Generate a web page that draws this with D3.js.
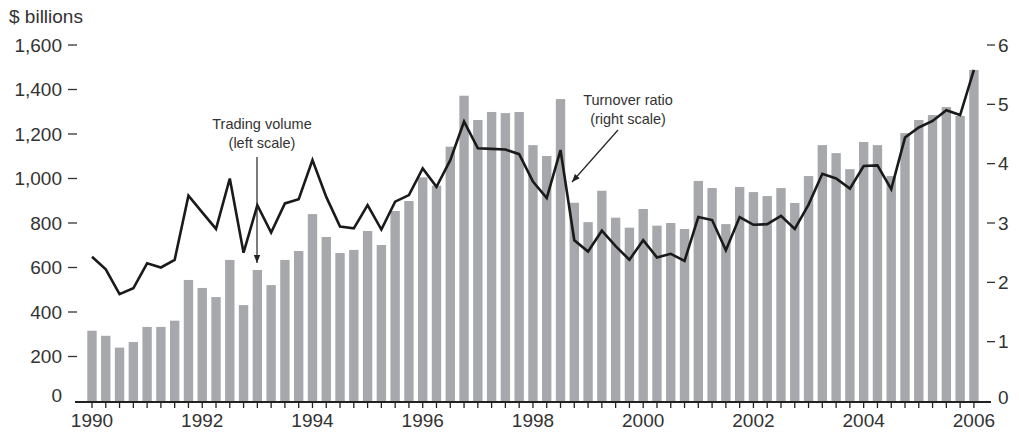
<!DOCTYPE html>
<html>
<head>
<meta charset="utf-8">
<script src="https://cdn.jsdelivr.net/npm/d3@7"></script>
<style>
  body { margin: 0; background: #fff; }
  svg text { font-family: "Liberation Sans", Arial, sans-serif; fill: #333; }
</style>
</head>
<body>
<svg id="chart" width="1019" height="434"></svg>
<script>
// Quarterly data, 1990 Q1 .. 2006 Q1
var years = d3.range(1990, 2007);
var quarters = [];
years.forEach(function(y) {
  [1, 2, 3, 4].forEach(function(q) {
    if (y < 2006 || q === 1) quarters.push(y + " Q" + q);
  });
});

// Trading volume, $ billions (left scale)
var volume = [
  316, 293, 240, 265, 333, 333, 361, 544,
  508, 467, 634, 431, 589, 521, 634, 674,
  840, 737, 665, 679, 764, 701, 854, 899,
  1005, 968, 1143, 1372, 1263, 1299, 1294, 1299,
  1150, 1101, 1357, 891, 804, 945, 824, 779,
  863, 788, 800, 773, 989, 957, 795, 962,
  939, 921, 957, 890, 1011, 1150, 1114, 1042,
  1164, 1150, 1011, 1204, 1263, 1285, 1321, 1281,
  1488
];

// Turnover ratio (right scale)
var turnover = [
  2.43, 2.22, 1.80, 1.90, 2.32, 2.25, 2.38, 3.46,
  3.18, 2.90, 3.75, 2.50, 3.30, 2.84, 3.33, 3.40,
  4.06, 3.44, 2.94, 2.91, 3.30, 2.89, 3.36, 3.47,
  3.92, 3.61, 4.06, 4.71, 4.26, 4.25, 4.24, 4.16,
  3.70, 3.42, 4.23, 2.71, 2.52, 2.87, 2.61, 2.38,
  2.71, 2.42, 2.48, 2.36, 3.10, 3.05, 2.54, 3.10,
  2.97, 2.98, 3.12, 2.90, 3.31, 3.83, 3.75, 3.58,
  3.96, 3.97, 3.57, 4.44, 4.61, 4.72, 4.90, 4.82,
  5.58
];

var leftTicks = [0, 200, 400, 600, 800, 1000, 1200, 1400, 1600];
var rightTicks = [0, 1, 2, 3, 4, 5, 6];

var svg = d3.select("#chart");
var base = 401;

var x = d3.scaleBand()
  .domain(quarters)
  .range([85.1, 85.1 + 13.78 * quarters.length])
  .paddingInner(0.32)
  .paddingOuter(0.16);

var yL = d3.scaleLinear().domain([0, 1600]).range([base, 45]);
var yR = d3.scaleLinear().domain([0, 6]).range([base, 45]);

// bars
svg.append("g").selectAll("rect")
  .data(volume)
  .enter().append("rect")
  .attr("x", function(d, i) { return x(quarters[i]); })
  .attr("width", x.bandwidth())
  .attr("y", function(d) { return yL(d); })
  .attr("height", function(d) { return base - yL(d); })
  .attr("fill", "#a7a8ac");

// turnover line
var line = d3.line()
  .x(function(d, i) { return x(quarters[i]) + x.bandwidth() / 2; })
  .y(function(d) { return yR(d); });

svg.append("path")
  .datum(turnover)
  .attr("d", line)
  .attr("fill", "none")
  .attr("stroke", "#1a1a1a")
  .attr("stroke-width", 2.6)
  .attr("stroke-linejoin", "miter");

// x axis
var xAxis = d3.axisBottom(x)
  .tickSize(6)
  .tickFormat(function(d) {
    var p = d.split(" Q");
    return (p[1] === "1" && +p[0] % 2 === 0) ? p[0] : "";
  });

var gx = svg.append("g")
  .attr("transform", "translate(0," + (base + 1) + ")")
  .call(xAxis);
gx.select(".domain").remove();
gx.selectAll(".tick line").attr("stroke", "#222").attr("stroke-width", 1.3);
gx.selectAll(".tick text")
  .attr("y", 12)
  .style("font-size", "19px")
  .style("font-family", "Liberation Sans, Arial, sans-serif")
  .attr("fill", "#333");
gx.append("line")
  .attr("x1", 75).attr("x2", 991)
  .attr("stroke", "#222").attr("stroke-width", 2);

// left axis
var gl = svg.append("g");
var lt = gl.selectAll("g").data(leftTicks).enter().append("g")
  .attr("transform", function(d) { return "translate(0," + yL(d) + ")"; });
lt.filter(function(d) { return d > 0; }).append("line")
  .attr("x1", 68).attr("x2", 77)
  .attr("stroke", "#333").attr("stroke-width", 1.3);
lt.append("text")
  .attr("x", 62)
  .attr("y", function(d) { return d > 0 ? 0 : -6; })
  .attr("dy", "0.35em")
  .attr("text-anchor", "end")
  .style("font-size", "19px")
  .text(function(d) { return d3.format(",")(d); });

// right axis
var gr = svg.append("g");
var rt = gr.selectAll("g").data(rightTicks).enter().append("g")
  .attr("transform", function(d) { return "translate(0," + yR(d) + ")"; });
rt.filter(function(d) { return d > 0; }).append("line")
  .attr("x1", 987).attr("x2", 995)
  .attr("stroke", "#333").attr("stroke-width", 1.3);
rt.append("text")
  .attr("x", 998)
  .attr("y", function(d) { return d > 0 ? 0 : -4; })
  .attr("dy", "0.35em")
  .style("font-size", "19px")
  .text(function(d) { return d; });

// unit label
svg.append("text")
  .attr("x", 9).attr("y", 23)
  .style("font-size", "19px")
  .text("$ billions");

// annotations
function note(cx, y, lines) {
  var t = svg.append("text")
    .attr("text-anchor", "middle")
    .style("font-size", "14.5px")
    .attr("fill", "#3a3a3a");
  lines.forEach(function(s, i) {
    t.append("tspan").attr("x", cx).attr("y", y + i * 19).text(s);
  });
}
note(262, 129, ["Trading volume", "(left scale)"]);
note(628, 105, ["Turnover ratio", "(right scale)"]);

svg.append("defs").append("marker")
  .attr("id", "arrow")
  .attr("viewBox", "0 0 10 10")
  .attr("refX", 10).attr("refY", 5)
  .attr("markerWidth", 8).attr("markerHeight", 8)
  .attr("markerUnits", "userSpaceOnUse")
  .attr("orient", "auto")
  .append("path")
  .attr("d", "M0,1 L10,5 L0,9 z")
  .attr("fill", "#222");

svg.append("line")
  .attr("x1", 257).attr("y1", 157).attr("x2", 257).attr("y2", 263)
  .attr("stroke", "#222").attr("stroke-width", 1.2)
  .attr("marker-end", "url(#arrow)");
svg.append("line")
  .attr("x1", 618).attr("y1", 130).attr("x2", 572).attr("y2", 182)
  .attr("stroke", "#222").attr("stroke-width", 1.2)
  .attr("marker-end", "url(#arrow)");
</script>
</body>
</html>
